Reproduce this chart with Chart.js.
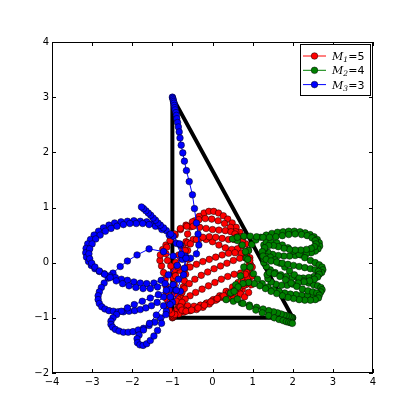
<!DOCTYPE html>
<html>
<head>
<meta charset="utf-8">
<script src="https://cdn.jsdelivr.net/npm/chart.js@4"></script>
<style>
  body { margin: 0; background: #fff; }
  canvas { display: block; }
</style>
</head>
<body>
<canvas id="orbitChart" width="415" height="415"></canvas>
<script>
// three bodies

const xTicks = [-4, -3, -2, -1, 0, 1, 2, 3, 4];
const yTicks = [-2, -1, 0, 1, 2, 3, 4];

const bodyNames = ['M', 'M', 'M'];
const bodySubs = ['1', '2', '3'];
const bodyMasses = [5, 4, 3];
const bodyColors = ['#ff0000', '#008000', '#0000ff'];

const triangleX = [-1, -1, 2, -1];
const triangleY = [3, -1, -1, 3];

const redPath = [
  [-1.00,-1.00],[-0.99,-0.99],[-0.98,-0.98],[-0.96,-0.96],[-0.94,-0.93],[-0.91,-0.89],[-0.88,-0.84],[-0.85,-0.78],
  [-0.82,-0.71],[-0.79,-0.63],[-0.76,-0.54],[-0.73,-0.44],[-0.70,-0.33],[-0.67,-0.21],[-0.64,-0.08],[-0.60,0.06],
  [-0.62,0.22],[-0.66,0.38],[-0.62,0.52],[-0.54,0.65],[-0.44,0.76],[-0.33,0.84],[-0.21,0.90],[-0.09,0.93],
  [0.03,0.93],[0.15,0.90],[0.27,0.85],[0.38,0.79],[0.49,0.72],[0.59,0.64],[0.68,0.55],[0.76,0.45],[0.83,0.34],
  [0.89,0.22],[0.93,0.09],[0.95,-0.04],[0.94,-0.17],[0.90,-0.29],[0.83,-0.40],[0.74,-0.49],[0.63,-0.56],
  [0.51,-0.61],[0.38,-0.65],[0.25,-0.63],[0.12,-0.66],[-0.02,-0.70],[-0.16,-0.74],[-0.30,-0.78],[-0.44,-0.82],
  [-0.58,-0.86],[-0.72,-0.90],[-0.84,-0.93],[-0.94,-0.94],[-1.02,-0.92],[-1.08,-0.86],[-1.12,-0.77],[-1.14,-0.66],
  [-1.15,-0.54],[-1.16,-0.42],[-1.18,-0.30],[-1.22,-0.18],[-1.27,-0.06],[-1.31,0.04],[-1.30,0.14],[-1.24,0.24],
  [-1.16,0.32],[-1.05,0.40],[-0.93,0.50],[-0.80,0.60],[-0.66,0.68],[-0.50,0.74],[-0.34,0.78],[-0.18,0.80],
  [-0.02,0.79],[0.14,0.76],[0.30,0.71],[0.45,0.64],[0.58,0.56],[0.68,0.47],[0.74,0.38],[0.72,0.30],[0.62,0.25],
  [0.48,0.24],[0.32,0.27],[0.16,0.32],[0.00,0.38],[-0.16,0.42],[-0.32,0.44],[-0.48,0.42],[-0.62,0.36],
  [-0.74,0.26],[-0.84,0.14],[-0.92,0.00],[-0.96,-0.14],[-0.98,-0.28],[-0.97,-0.42],[-0.93,-0.55],[-0.86,-0.66],
  [-0.76,-0.74],[-0.62,-0.78],[-0.46,-0.79],[-0.30,-0.77],[-0.14,-0.73],[0.02,-0.67],[0.18,-0.60],[0.34,-0.52],
  [0.50,-0.44],[0.64,-0.36],[0.76,-0.27],[0.85,-0.17],[0.90,-0.06],[0.90,0.05],[0.84,0.13],[0.72,0.17],
  [0.56,0.18],[0.40,0.17],[0.24,0.14],[0.08,0.10],[-0.08,0.06],[-0.24,0.02],[-0.40,-0.03],[-0.56,-0.08],
  [-0.70,-0.12],[-0.82,-0.14],[-0.94,-0.12],[-1.04,-0.06],[-1.12,0.04],[-1.16,0.16],[-1.14,0.28],[-1.06,0.40],
  [-0.94,0.52],[-0.80,0.62],[-0.64,0.66],[-0.48,0.66],[-0.32,0.64],[-0.16,0.62],[0.00,0.60],[0.16,0.59],
  [0.32,0.58],[0.46,0.56],[0.56,0.52],[0.60,0.46],[0.54,0.42],[0.40,0.42],[0.24,0.44],[0.08,0.46],[-0.08,0.47],
  [-0.24,0.46],[-0.40,0.42],[-0.55,0.34],[-0.68,0.22],[-0.78,0.08],[-0.86,-0.08],[-0.92,-0.24],[-0.95,-0.40],
  [-0.94,-0.56],[-0.90,-0.70],[-0.82,-0.80],[-0.70,-0.86],[-0.56,-0.87],[-0.40,-0.85],[-0.24,-0.81],
  [-0.08,-0.75],[0.08,-0.68],[0.24,-0.61],[0.40,-0.55],[0.55,-0.50],[0.68,-0.46],[0.78,-0.41],[0.86,-0.35],
  [0.88,-0.27],[0.82,-0.21],[0.70,-0.19],[0.54,-0.21],[0.38,-0.25],[0.22,-0.30],[0.06,-0.36],[-0.10,-0.42],
  [-0.26,-0.48],[-0.42,-0.54],[-0.56,-0.60],[-0.68,-0.66],[-0.76,-0.72],[-0.80,-0.80],[-0.76,-0.86],
  [-0.66,-0.88],[-0.52,-0.86],[-0.36,-0.82],[-0.20,-0.77],[-0.04,-0.71],[0.12,-0.65],[0.28,-0.60],
  [0.44,-0.56],[0.58,-0.55],[0.70,-0.57],[0.80,-0.62],[0.90,-0.54],[0.97,-0.40],[1.00,-0.24],[0.99,-0.08],
  [0.93,0.04],[0.82,0.09],[0.68,0.08],[0.52,0.04],[0.36,-0.01],[0.20,-0.06],[0.04,-0.11],[-0.12,-0.17],
  [-0.28,-0.23],[-0.44,-0.30],[-0.58,-0.38],[-0.70,-0.47]
];

const greenPath = [
  [2.00,-1.00],[1.99,-1.00],[1.98,-0.99],[1.96,-0.99],[1.93,-0.98],[1.89,-0.97],[1.84,-0.96],[1.78,-0.95],
  [1.71,-0.93],[1.62,-0.91],[1.52,-0.89],[1.40,-0.87],[1.26,-0.84],[1.10,-0.81],[0.92,-0.77],[0.72,-0.73],
  [0.52,-0.70],[0.34,-0.67],[0.45,-0.55],[0.58,-0.40],[0.70,-0.24],[0.78,-0.08],[0.84,0.08],[0.90,0.22],
  [0.98,0.33],[1.08,0.41],[1.20,0.46],[1.34,0.50],[1.48,0.53],[1.62,0.55],[1.76,0.56],[1.90,0.57],[2.04,0.57],
  [2.18,0.56],[2.31,0.54],[2.43,0.51],[2.53,0.47],[2.61,0.42],[2.66,0.36],[2.67,0.30],[2.63,0.25],[2.56,0.21],
  [2.46,0.18],[2.34,0.16],[2.20,0.14],[2.06,0.13],[1.92,0.12],[1.78,0.12],[1.64,0.13],[1.50,0.15],[1.38,0.19],
  [1.30,0.25],[1.28,0.32],[1.34,0.37],[1.46,0.38],[1.60,0.36],[1.74,0.32],[1.88,0.27],[2.02,0.21],[2.16,0.15],
  [2.30,0.09],[2.44,0.04],[2.56,0.00],[2.66,-0.04],[2.73,-0.08],[2.75,-0.13],[2.72,-0.18],[2.64,-0.22],
  [2.53,-0.25],[2.40,-0.27],[2.26,-0.28],[2.12,-0.28],[1.98,-0.27],[1.84,-0.25],[1.70,-0.22],[1.56,-0.18],
  [1.44,-0.13],[1.34,-0.07],[1.28,0.00],[1.28,0.07],[1.34,0.11],[1.44,0.10],[1.56,0.05],[1.68,-0.01],
  [1.80,-0.08],[1.92,-0.15],[2.04,-0.22],[2.16,-0.28],[2.28,-0.33],[2.40,-0.37],[2.52,-0.40],[2.62,-0.42],
  [2.70,-0.45],[2.73,-0.49],[2.70,-0.53],[2.62,-0.56],[2.50,-0.58],[2.36,-0.59],[2.22,-0.59],[2.08,-0.58],
  [1.94,-0.57],[1.80,-0.55],[1.66,-0.52],[1.52,-0.49],[1.38,-0.44],[1.24,-0.38],[1.12,-0.30],[1.02,-0.20],
  [0.94,-0.08],[0.88,0.06],[0.82,0.20],[0.74,0.32],[0.62,0.40],[0.50,0.43],[0.62,0.46],[0.78,0.48],[0.94,0.48],
  [1.10,0.47],[1.26,0.46],[1.42,0.46],[1.58,0.47],[1.74,0.49],[1.90,0.51],[2.06,0.52],[2.22,0.51],[2.36,0.49],
  [2.48,0.45],[2.56,0.40],[2.58,0.34],[2.54,0.29],[2.46,0.26],[2.34,0.24],[2.20,0.23],[2.06,0.23],[1.92,0.24],
  [1.78,0.26],[1.64,0.29],[1.52,0.31],[1.40,0.31],[1.30,0.27],[1.24,0.20],[1.26,0.12],[1.34,0.06],[1.46,0.03],
  [1.60,0.01],[1.74,-0.01],[1.88,-0.03],[2.02,-0.05],[2.16,-0.07],[2.30,-0.09],[2.44,-0.11],[2.56,-0.13],
  [2.64,-0.16],[2.66,-0.21],[2.62,-0.26],[2.54,-0.30],[2.42,-0.33],[2.28,-0.35],[2.14,-0.37],[2.00,-0.39],
  [1.86,-0.41],[1.72,-0.41],[1.58,-0.39],[1.46,-0.35],[1.38,-0.29],[1.36,-0.22],[1.42,-0.18],[1.54,-0.20],
  [1.68,-0.25],[1.82,-0.31],[1.96,-0.37],[2.10,-0.43],[2.24,-0.48],[2.38,-0.51],[2.50,-0.53],[2.60,-0.55],
  [2.66,-0.59],[2.64,-0.64],[2.56,-0.67],[2.44,-0.68],[2.30,-0.68],[2.16,-0.67],[2.02,-0.65],[1.88,-0.63],
  [1.74,-0.60],[1.60,-0.56],[1.46,-0.52],[1.32,-0.47],[1.18,-0.42],[1.04,-0.38],[0.90,-0.36],[0.76,-0.38],
  [0.64,-0.44],[0.54,-0.52],[0.62,-0.66],[0.76,-0.74],[0.92,-0.80],[1.08,-0.86],[1.24,-0.91],[1.40,-0.96],
  [1.54,-1.00],[1.66,-1.03],[1.76,-1.05],[1.84,-1.07],[1.90,-1.08],[1.95,-1.09],[1.99,-1.10]
];

const bluePath = [
  [-1.00,3.00],[-0.99,2.98],[-0.98,2.95],[-0.97,2.92],[-0.96,2.89],[-0.95,2.85],[-0.94,2.81],[-0.93,2.77],
  [-0.91,2.72],[-0.90,2.67],[-0.89,2.61],[-0.87,2.54],[-0.85,2.46],[-0.83,2.37],[-0.81,2.26],[-0.78,2.13],
  [-0.74,1.99],[-0.70,1.84],[-0.65,1.67],[-0.58,1.47],[-0.50,1.23],[-0.45,0.98],[-0.40,0.72],[-0.36,0.52],
  [-0.34,0.32],[-0.40,0.16],[-0.55,0.08],[-0.75,0.06],[-0.98,0.12],[-1.22,0.20],[-1.58,0.25],[-1.88,0.14],
  [-2.12,0.03],[-2.30,-0.07],[-2.48,-0.19],[-2.60,-0.28],[-2.70,-0.37],[-2.77,-0.45],[-2.82,-0.53],
  [-2.85,-0.60],[-2.85,-0.67],[-2.82,-0.74],[-2.76,-0.80],[-2.68,-0.84],[-2.58,-0.87],[-2.47,-0.88],
  [-2.35,-0.89],[-2.22,-0.89],[-2.08,-0.88],[-1.94,-0.87],[-1.80,-0.85],[-1.66,-0.82],[-1.52,-0.78],
  [-1.38,-0.72],[-1.22,-0.62],[-1.05,-0.48],[-0.85,-0.30],[-0.70,-0.10],[-0.68,0.12],[-0.80,0.32],
  [-0.98,0.48],[-1.15,0.58],[-1.32,0.66],[-1.48,0.71],[-1.64,0.74],[-1.80,0.75],[-1.96,0.76],[-2.12,0.75],
  [-2.28,0.74],[-2.44,0.72],[-2.58,0.68],[-2.72,0.63],[-2.84,0.57],[-2.95,0.50],[-3.04,0.42],[-3.11,0.34],
  [-3.15,0.26],[-3.16,0.18],[-3.14,0.10],[-3.09,0.02],[-3.02,-0.05],[-2.93,-0.11],[-2.82,-0.16],[-2.70,-0.20],
  [-2.56,-0.24],[-2.42,-0.27],[-2.27,-0.30],[-2.12,-0.32],[-1.96,-0.35],[-1.80,-0.37],[-1.64,-0.38],
  [-1.46,-0.37],[-1.28,-0.32],[-1.10,-0.22],[-0.88,-0.05],[-0.78,0.15],[-0.90,0.35],[-1.08,0.50],[-1.26,0.60],
  [-1.42,0.66],[-1.58,0.69],[-1.74,0.71],[-1.90,0.71],[-2.06,0.71],[-2.22,0.69],[-2.38,0.66],[-2.53,0.62],
  [-2.67,0.57],[-2.80,0.50],[-2.91,0.43],[-3.00,0.34],[-3.06,0.25],[-3.08,0.16],[-3.06,0.07],[-3.01,-0.01],
  [-2.93,-0.08],[-2.82,-0.15],[-2.69,-0.21],[-2.55,-0.27],[-2.40,-0.33],[-2.24,-0.38],[-2.08,-0.42],
  [-1.91,-0.45],[-1.73,-0.47],[-1.55,-0.47],[-1.37,-0.44],[-1.18,-0.38],[-0.98,-0.40],[-1.15,-0.50],
  [-1.35,-0.58],[-1.55,-0.64],[-1.75,-0.70],[-1.95,-0.76],[-2.12,-0.82],[-2.27,-0.88],[-2.39,-0.94],
  [-2.48,-1.00],[-2.53,-1.06],[-2.53,-1.12],[-2.49,-1.17],[-2.42,-1.21],[-2.33,-1.24],[-2.22,-1.26],
  [-2.10,-1.26],[-1.98,-1.25],[-1.85,-1.22],[-1.72,-1.19],[-1.58,-1.14],[-1.44,-1.08],[-1.30,-1.00],
  [-1.15,-0.88],[-1.00,-0.72],[-0.80,-0.52],[-0.92,-0.50],[-1.05,-0.62],[-1.22,-0.78],[-1.40,-0.95],
  [-1.57,-1.10],[-1.72,-1.22],[-1.83,-1.31],[-1.88,-1.38],[-1.87,-1.45],[-1.81,-1.49],[-1.73,-1.50],
  [-1.64,-1.47],[-1.55,-1.41],[-1.46,-1.33],[-1.37,-1.23],[-1.27,-1.10],[-1.16,-0.94],[-1.06,-0.76],
  [-0.90,-0.50],[-0.72,-0.22],[-0.66,0.08],[-0.82,0.34],[-1.04,0.52],[-1.22,0.63],[-1.30,0.68],
  [-1.36,0.72],[-1.42,0.77],[-1.48,0.81],[-1.54,0.86],[-1.60,0.90],[-1.66,0.94],[-1.72,0.98],[-1.77,1.01]
];

function toXY(path) {
  return path.map(p => ({ x: p[0], y: p[1] }));
}

function bodySet(path, color, order) {
  return {
    data: toXY(path),
    showLine: true,
    borderColor: color,
    borderWidth: 1,
    pointRadius: 3.3,
    pointBackgroundColor: color,
    pointBorderColor: '#000',
    pointBorderWidth: 0.5,
    order: order
  };
}

const minus = v => (v < 0 ? '\u2212' + Math.abs(v) : '' + v);

// frame, inward ticks and legend, matplotlib style
const framePlugin = {
  id: 'frame',
  afterDraw(chart) {
    const { ctx, chartArea: a, scales } = chart;
    ctx.save();
    ctx.strokeStyle = '#000';
    ctx.lineWidth = 1;
    ctx.strokeRect(a.left + 0.5, a.top + 0.5, a.right - a.left - 1, a.bottom - a.top - 1);
    ctx.beginPath();
    xTicks.forEach(t => {
      const px = Math.round(scales.x.getPixelForValue(t)) + 0.5;
      ctx.moveTo(px, a.bottom); ctx.lineTo(px, a.bottom - 4);
      ctx.moveTo(px, a.top); ctx.lineTo(px, a.top + 4);
    });
    yTicks.forEach(t => {
      const py = Math.round(scales.y.getPixelForValue(t)) + 0.5;
      ctx.moveTo(a.left, py); ctx.lineTo(a.left + 4, py);
      ctx.moveTo(a.right, py); ctx.lineTo(a.right - 4, py);
    });
    ctx.stroke();

    // legend box
    const bx = 300.5, by = 44.5, bw = 70, bh = 51;
    ctx.fillStyle = '#fff';
    ctx.fillRect(bx, by, bw, bh);
    ctx.strokeRect(bx, by, bw, bh);
    bodyNames.forEach((name, i) => {
      const y = 56 + i * 14.3;
      ctx.strokeStyle = bodyColors[i];
      ctx.lineWidth = 1;
      ctx.beginPath();
      ctx.moveTo(303, y); ctx.lineTo(326, y);
      ctx.stroke();
      ctx.beginPath();
      ctx.arc(314.5, y, 3.3, 0, Math.PI * 2);
      ctx.fillStyle = bodyColors[i];
      ctx.fill();
      ctx.strokeStyle = '#000';
      ctx.lineWidth = 0.5;
      ctx.stroke();
      ctx.fillStyle = '#000';
      ctx.textBaseline = 'alphabetic';
      ctx.font = 'italic 11px "DejaVu Serif"';
      ctx.fillText(name, 332, y + 4);
      const mw = ctx.measureText(name).width;
      ctx.font = 'italic 7.5px "DejaVu Serif"';
      ctx.fillText(bodySubs[i], 332 + mw, y + 6);
      ctx.font = '11px "DejaVu Sans"';
      ctx.fillText('=' + bodyMasses[i], 332 + mw + 5, y + 4);
    });
    ctx.restore();
  }
};

const ctx = document.getElementById('orbitChart').getContext('2d');
const chart = new Chart(ctx, {
  type: 'scatter',
  data: {
    datasets: [
      bodySet(bluePath, bodyColors[2], 0),
      bodySet(greenPath, bodyColors[1], 1),
      bodySet(redPath, bodyColors[0], 2),
      {
        data: triangleX.map((x, i) => ({ x: x, y: triangleY[i] })),
        showLine: true,
        borderColor: '#000',
        borderWidth: 4,
        borderJoinStyle: 'miter',
        pointRadius: 0,
        order: 3
      }
    ]
  },
  options: {
    responsive: false,
    animation: false,
    layout: { padding: { top: 42, right: 42, left: 0, bottom: 0 } },
    plugins: { legend: { display: false }, tooltip: { enabled: false } },
    scales: {
      x: {
        type: 'linear', min: -4, max: 4,
        grid: { display: false, drawTicks: false }, border: { display: false },
        afterFit: s => { s.height = 42; },
        ticks: { stepSize: 1, padding: 3, color: '#000', font: { family: 'DejaVu Sans', size: 10 }, callback: minus }
      },
      y: {
        type: 'linear', min: -2, max: 4,
        grid: { display: false, drawTicks: false }, border: { display: false },
        afterFit: s => { s.width = 52; },
        ticks: { stepSize: 1, padding: 3, color: '#000', font: { family: 'DejaVu Sans', size: 10 }, callback: minus }
      }
    }
  },
  plugins: [framePlugin]
});
</script>
</body>
</html>
